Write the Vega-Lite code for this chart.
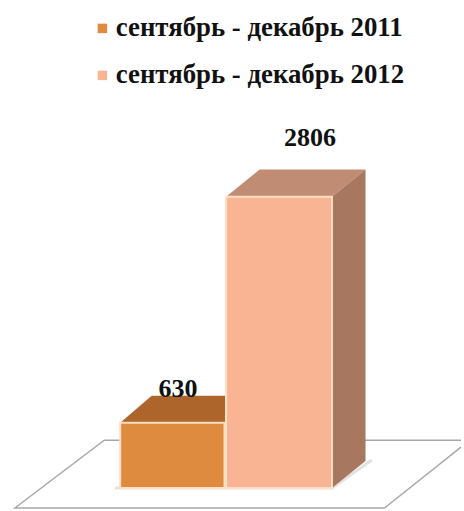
{
  "$schema": "https://vega.github.io/schema/vega-lite/v6.json",
  "width": 464,
  "height": 511,
  "padding": 0,
  "autosize": {"type": "fit", "contains": "padding"},
  "background": "white",
  "view": {"stroke": null},
  "config": {"text": {"font": "Liberation Serif"}},
  "datasets": {
    "bars": [
      {"period": "сентябрь - декабрь 2011", "start": 0, "end": 0.995, "zero": 0, "value": 630, "labelX": 0.55, "labelY": 951},
      {"period": "сентябрь - декабрь 2012", "start": 1.01, "end": 2.02, "zero": 0, "value": 2806, "labelX": 1.81, "labelY": 3373}
    ],
    "faces": [
      {"face": "top2011", "pos": 0, "low": 630, "high": 630},
      {"face": "top2011", "pos": 0.3, "low": 630, "high": 890},
      {"face": "top2011", "pos": 1, "low": 630, "high": 890},
      {"face": "top2012", "pos": 1.01, "low": 2806, "high": 2806},
      {"face": "top2012", "pos": 1.33, "low": 2806, "high": 3066},
      {"face": "top2012", "pos": 2.02, "low": 2806, "high": 3066},
      {"face": "top2012", "pos": 2.34, "low": 3066, "high": 3066},
      {"face": "side2012", "pos": 2.02, "low": 0, "high": 2806},
      {"face": "side2012", "pos": 2.34, "low": 260, "high": 3066}
    ],
    "floor": [
      {"edge": "outline", "step": 1, "pos": 3.251, "level": 394},
      {"edge": "outline", "step": 2, "pos": 2.521, "level": -192},
      {"edge": "outline", "step": 3, "pos": -1.005, "level": -192},
      {"edge": "outline", "step": 4, "pos": -0.152, "level": 461},
      {"edge": "outline", "step": 5, "pos": 3.251, "level": 461}
    ],
    "shadow": [
      {"step": 1, "pos": -0.05, "level": 0},
      {"step": 2, "pos": 2.02, "level": 0},
      {"step": 3, "pos": 2.4, "level": 270}
    ]
  },
  "layer": [
    {
      "data": {"name": "floor"},
      "mark": {"type": "line", "color": "#a8a8a8", "strokeWidth": 1.4},
      "encoding": {
        "x": {"field": "pos", "type": "quantitative", "scale": {"domain": [-1.147, 3.251], "nice": false, "zero": false}, "axis": null},
        "y": {"field": "level", "type": "quantitative", "scale": {"domain": [-211, 4699], "nice": false, "zero": false}, "axis": null},
        "order": {"field": "step", "type": "quantitative"}
      }
    },
    {
      "data": {"name": "shadow"},
      "mark": {"type": "line", "color": "#e2e2e2", "strokeWidth": 3},
      "encoding": {
        "x": {"field": "pos", "type": "quantitative"},
        "y": {"field": "level", "type": "quantitative"},
        "order": {"field": "step", "type": "quantitative"}
      }
    },
    {
      "data": {"name": "faces"},
      "transform": [{"filter": "datum.face === 'top2011'"}],
      "mark": {"type": "area", "orient": "vertical", "color": "#ad652b"},
      "encoding": {
        "x": {"field": "pos", "type": "quantitative"},
        "y": {"field": "high", "type": "quantitative"},
        "y2": {"field": "low"}
      }
    },
    {
      "data": {"name": "faces"},
      "transform": [{"filter": "datum.face === 'top2012'"}],
      "mark": {"type": "area", "orient": "vertical", "color": "#c08d74"},
      "encoding": {
        "x": {"field": "pos", "type": "quantitative"},
        "y": {"field": "high", "type": "quantitative"},
        "y2": {"field": "low"}
      }
    },
    {
      "data": {"name": "faces"},
      "transform": [{"filter": "datum.face === 'side2012'"}],
      "mark": {"type": "area", "orient": "vertical", "color": "#a8775f"},
      "encoding": {
        "x": {"field": "pos", "type": "quantitative"},
        "y": {"field": "high", "type": "quantitative"},
        "y2": {"field": "low"}
      }
    },
    {
      "data": {"name": "bars"},
      "mark": {"type": "rect", "stroke": "#fde0c4", "strokeWidth": 2},
      "encoding": {
        "x": {"field": "start", "type": "quantitative"},
        "x2": {"field": "end"},
        "y": {"field": "value", "type": "quantitative"},
        "y2": {"field": "zero"},
        "fill": {
          "field": "period",
          "type": "nominal",
          "scale": {"range": ["#de8a3f", "#f9b593"]},
          "legend": {
            "title": null,
            "orient": "none",
            "legendX": 89,
            "legendY": 15,
            "symbolType": "square",
            "symbolSize": 90,
            "symbolStrokeWidth": 0,
            "labelFont": "Liberation Serif",
            "labelFontWeight": "bold",
            "labelFontSize": 26.8,
            "labelColor": "#111111",
            "labelLimit": 400,
            "labelOffset": 0,
            "rowPadding": 19
          }
        }
      }
    },
    {
      "data": {"name": "bars"},
      "mark": {"type": "text", "font": "Liberation Serif", "fontWeight": "bold", "fontSize": 26, "color": "#111111", "align": "center", "baseline": "middle"},
      "encoding": {
        "x": {"field": "labelX", "type": "quantitative"},
        "y": {"field": "labelY", "type": "quantitative"},
        "text": {"field": "value", "type": "quantitative"}
      }
    }
  ]
}
